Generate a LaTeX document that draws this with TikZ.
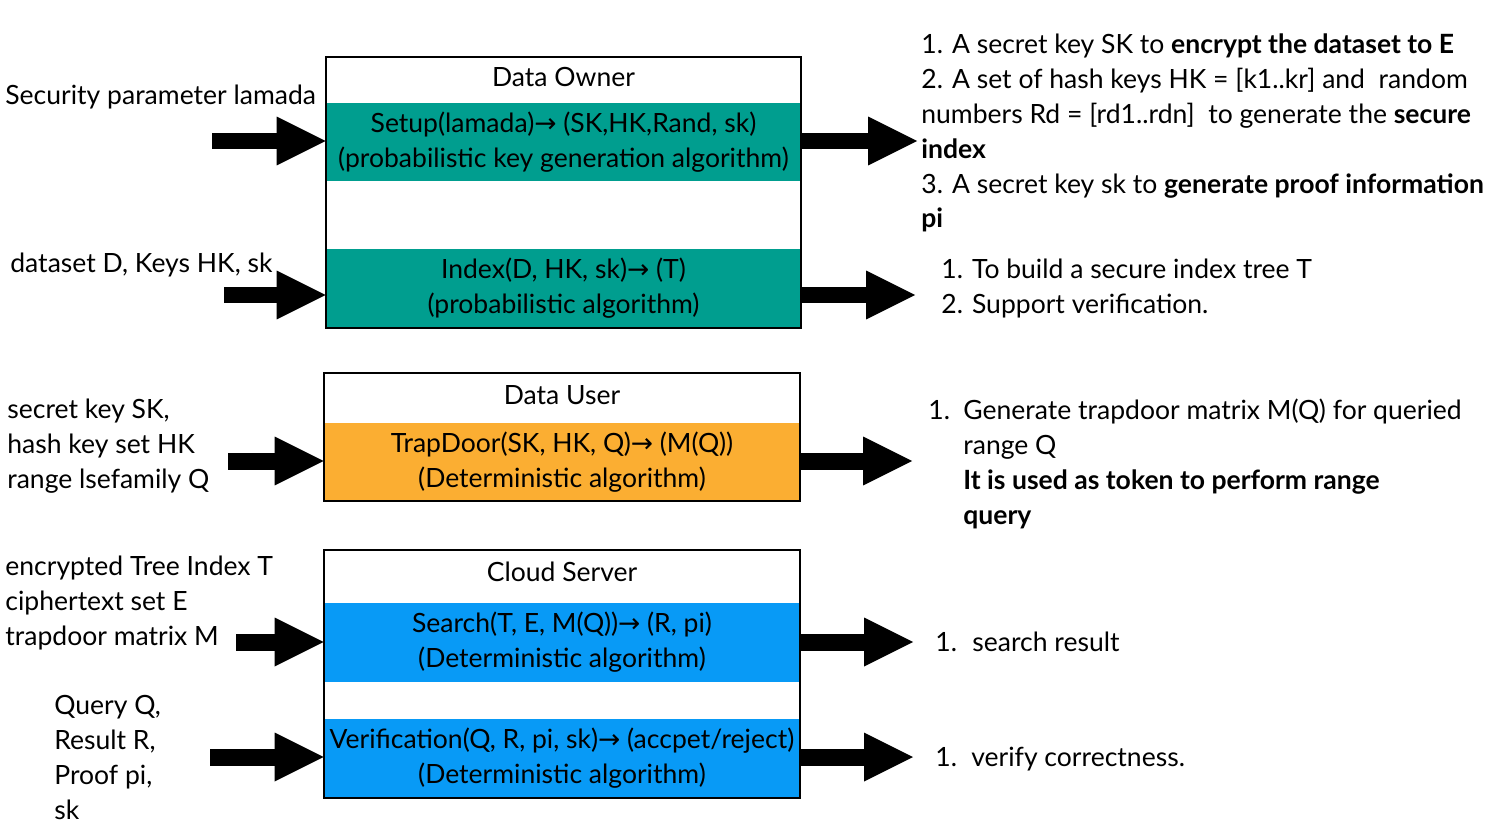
\documentclass[tikz,border=0pt]{standalone}
\usepackage{fontspec}
\setmainfont{Lato}
\newfontfamily\arrfont{DejaVu Sans}
\usetikzlibrary{arrows.meta,positioning}
\definecolor{ownerteal}{RGB}{0,158,143}
\definecolor{userorange}{RGB}{251,174,50}
\definecolor{cloudblue}{RGB}{8,154,246}
\newcommand{\yields}{{\arrfont →}}
\tikzset{
  rolebox/.style = {rectangle, draw, line width=1.2pt, inner sep=0pt, minimum width=9.5cm},
  algoband/.style = {rectangle, inner sep=0pt, minimum width=9.5cm, minimum height=1.57cm, align=center},
  blockarrow/.style = {line width=0.34cm, -{Triangle[length=0.98cm, width=0.98cm, line width=0pt]}},
  inlabel/.style = {align=left, anchor=base west, inner sep=0pt},
  outnote/.style = {align=left, anchor=base west, inner sep=0pt},
}

\begin{document}
\begin{tikzpicture}[x=0.02cm, y=-0.02cm, every node/.style={font=\fontsize{15.1}{19.9}\selectfont}]
\useasboundingbox (0,0) rectangle (1507,824);
\node[algoband, fill=ownerteal] (setup) at (563.5,142) {Setup(lamada)\yields{} (SK,HK,Rand, sk)\\(probabilistic key generation algorithm)};
\node[algoband, fill=ownerteal] (index) at (563.5,288) {Index(D, HK, sk)\yields{} (T)\\(probabilistic algorithm)};
\node[rolebox, minimum height=5.42cm] (owner) at (563.5,192.5) {};
\node[anchor=base] (ownertitle) at (563.5,87) {Data Owner};
\node[algoband, fill=userorange, minimum width=9.52cm] (trapdoor) at (562,462) {TrapDoor(SK, HK, Q)\yields{} (M(Q))\\(Deterministic algorithm)};
\node[rolebox, minimum width=9.52cm, minimum height=2.56cm] (user) at (562,437) {};
\node[anchor=base] (usertitle) at (562,404) {Data User};
\node[algoband, fill=cloudblue, minimum width=9.52cm] (search) at (562,642.5) {Search(T, E, M(Q))\yields{} (R, pi)\\(Deterministic algorithm)};
\node[algoband, fill=cloudblue, minimum width=9.52cm] (verify) at (562,758.5) {Verification(Q, R, pi, sk)\yields{} (accpet/reject)\\(Deterministic algorithm)};
\node[rolebox, minimum width=9.52cm, minimum height=4.96cm] (cloud) at (562,674) {};
\node[anchor=base] (cloudtitle) at (562,581) {Cloud Server};
\node[inlabel] (insetup) at (5,105) {Security parameter lamada};
\node[inlabel] (inindex) at (10,273) {dataset D, Keys HK, sk};
\node[inlabel] (intrap) at (7,488) {secret key SK,\\hash key set HK\\range lsefamily Q};
\node[inlabel] (insearch) at (5,645) {encrypted Tree Index T\\ciphertext set E\\trapdoor matrix M};
\node[inlabel] (inverify) at (54,819) {Query Q,\\Result R,\\Proof pi,\\sk};
\node[outnote] (outsetup) at (921,228) {1. A secret key SK to \textbf{encrypt the dataset to E}\\2. A set of hash keys HK = [k1..kr] and~ random\\numbers Rd = [rd1..rdn]~ to generate the \textbf{secure}\\\textbf{index}\\3. A secret key sk to \textbf{generate proof information}\\\textbf{pi}};
\node[outnote] (outindex) at (941,313) {1. To build a secure index tree T\\2. Support verification.};
\node[outnote] (outtrap) at (928,524) {\makebox[0.7cm][l]{1.}Generate trapdoor matrix M(Q) for queried\\\hspace*{0.7cm}range Q\\\hspace*{0.7cm}\textbf{It is used as token to perform range}\\\hspace*{0.7cm}\textbf{query}};
\node[outnote] (outsearch) at (935,651) {\makebox[0.74cm][l]{1.}search result};
\node[outnote] (outverify) at (935,766) {\makebox[0.72cm][l]{1.}verify correctness.};
\coordinate (setupin) at (212,141);
\coordinate (setupout) at (917,141);
\coordinate (indexin) at (224,295);
\coordinate (indexout) at (915,295);
\coordinate (trapin) at (228,461);
\coordinate (trapout) at (912,461);
\coordinate (searchin) at (236,642);
\coordinate (searchout) at (913,642);
\coordinate (verifyin) at (210,757);
\coordinate (verifyout) at (913,757);
\draw[blockarrow] (setupin) -- (setupin -| setup.west);
\draw[blockarrow] (setupout -| setup.east) -- (setupout);
\draw[blockarrow] (indexin) -- (indexin -| index.west);
\draw[blockarrow] (indexout -| index.east) -- (indexout);
\draw[blockarrow] (trapin) -- (trapin -| trapdoor.west);
\draw[blockarrow] (trapout -| trapdoor.east) -- (trapout);
\draw[blockarrow] (searchin) -- (searchin -| search.west);
\draw[blockarrow] (searchout -| search.east) -- (searchout);
\draw[blockarrow] (verifyin) -- (verifyin -| verify.west);
\draw[blockarrow] (verifyout -| verify.east) -- (verifyout);
\end{tikzpicture}
\end{document}
